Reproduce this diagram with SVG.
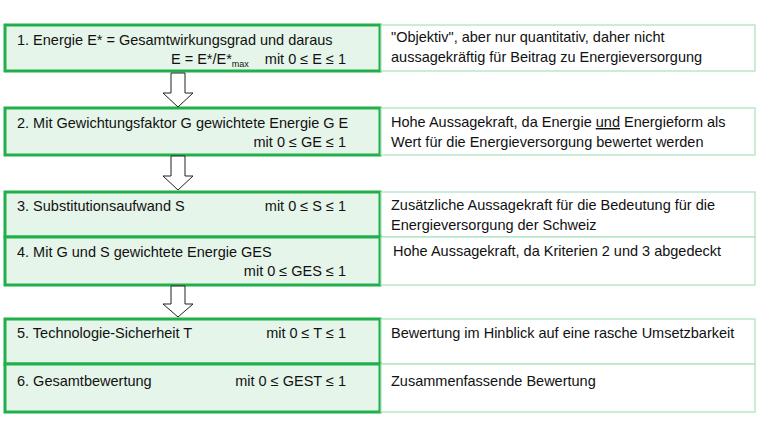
<svg xmlns="http://www.w3.org/2000/svg" width="760" height="440" viewBox="0 0 760 440">
<style>
.g{fill:#e6f5ea;stroke:#1fb04a;stroke-width:3}
.r{fill:#fff;stroke:#a9e2bb;stroke-width:1.2}
text{font-family:"Liberation Sans",Arial,sans-serif;font-size:14.5px;fill:#111}
.e{text-anchor:end}
.a{fill:#fff;stroke:#222;stroke-width:1}
</style>
<rect width="760" height="440" fill="#fff"/>
<g id="n1"><rect class="g" x="5" y="25" width="375" height="46"/>
<text x="17" y="45">1. Energie E* = Gesamtwirkungsgrad und daraus</text>
<text x="346" y="64" class="e">E = E*/E*<tspan font-size="9" dy="3">max</tspan><tspan dy="-3" dx="16">mit 0 ≤ E ≤ 1</tspan></text></g>
<g id="d1"><rect class="r" x="381" y="25" width="374" height="46"/>
<text x="391" y="42">"Objektiv", aber nur quantitativ, daher nicht</text>
<text x="391" y="62">aussagekräftig für Beitrag zu Energieversorgung</text></g>
<g id="n2"><rect class="g" x="5" y="108" width="375" height="47"/>
<text x="17" y="128">2. Mit Gewichtungsfaktor G gewichtete Energie G E</text>
<text x="346" y="147" class="e">mit 0 ≤ GE ≤ 1</text></g>
<g id="d2"><rect class="r" x="381" y="108" width="374" height="47"/>
<text x="391" y="127">Hohe Aussagekraft, da Energie <tspan text-decoration="underline">und</tspan> Energieform als</text>
<text x="391" y="147">Wert für die Energieversorgung bewertet werden</text></g>
<g id="n3"><rect class="g" x="5" y="192" width="375" height="45"/>
<text x="17" y="211">3. Substitutionsaufwand S</text>
<text x="346" y="211" class="e">mit 0 ≤ S ≤ 1</text></g>
<g id="d3"><rect class="r" x="381" y="192" width="374" height="45"/>
<text x="391" y="210">Zusätzliche Aussagekraft für die Bedeutung für die</text>
<text x="391" y="230">Energieversorgung der Schweiz</text></g>
<g id="n4"><rect class="g" x="5" y="237" width="375" height="48"/>
<text x="17" y="257">4. Mit G und S gewichtete Energie GES</text>
<text x="346" y="276" class="e">mit 0 ≤ GES ≤ 1</text></g>
<g id="d4"><rect class="r" x="381" y="237" width="374" height="48"/>
<text x="393" y="256">Hohe Aussagekraft, da Kriterien 2 und 3 abgedeckt</text></g>
<g id="n5"><rect class="g" x="5" y="319" width="375" height="45"/>
<text x="17" y="338">5. Technologie-Sicherheit T</text>
<text x="346" y="338" class="e">mit 0 ≤ T ≤ 1</text></g>
<g id="d5"><rect class="r" x="381" y="319" width="374" height="45"/>
<text x="391" y="338">Bewertung im Hinblick auf eine rasche Umsetzbarkeit</text></g>
<g id="n6"><rect class="g" x="5" y="364" width="375" height="48"/>
<text x="17" y="386">6. Gesamtbewertung</text>
<text x="346" y="386" class="e">mit 0 ≤ GEST ≤ 1</text></g>
<g id="d6"><rect class="r" x="381" y="364" width="374" height="48"/>
<text x="391" y="386">Zusammenfassende Bewertung</text></g>
<g id="connectors">
<path class="a" d="M171,73 H185 V93 H193 L178,107 L163,93 H171 Z"/>
<path class="a" d="M171,156 H185 V176 H193 L178,190 L163,176 H171 Z"/>
<path class="a" d="M171,286 H185 V304 H193 L178,317 L163,304 H171 Z"/>
</g>
</svg>
